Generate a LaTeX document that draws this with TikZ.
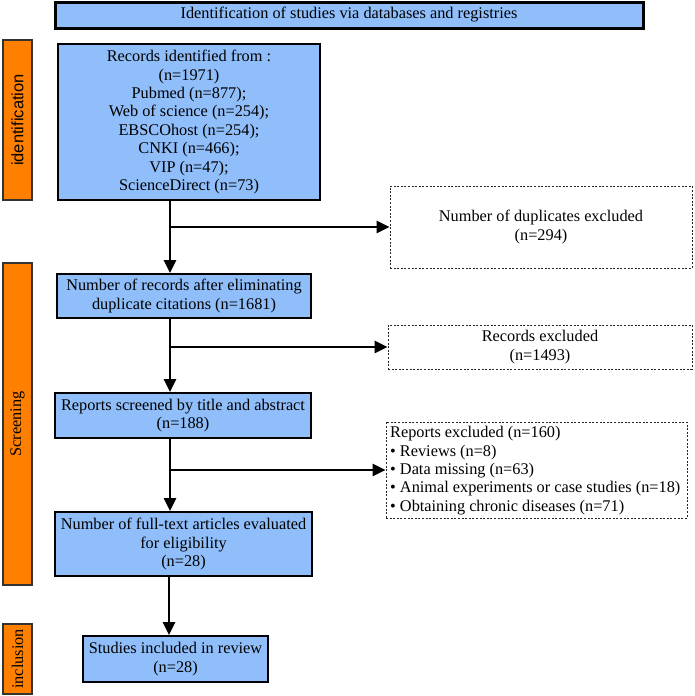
\documentclass[tikz,border=0pt]{standalone}
\usepackage{fontspec}
\setmainfont{Liberation Serif}
\setsansfont{Liberation Sans}
\usetikzlibrary{arrows.meta}
\definecolor{boxblue}{RGB}{143,190,250}
\definecolor{barorange}{RGB}{255,128,0}
\begin{document}
\begin{tikzpicture}[x=1pt,y=-1pt,
  txt/.style={font=\fontsize{16.3}{18.4}\selectfont},
  bluebox/.style={txt,draw=black,line width=2pt,fill=boxblue,inner sep=0pt,align=center},
  dashbox/.style={txt,draw=black!85,line width=0.8pt,dash pattern=on 2pt off 1.6pt,inner sep=0pt,align=center},
  stagebar/.style={draw=black!80,line width=1.5pt,fill=barorange,inner sep=0pt,rotate=90},
  flow/.style={line width=2.7pt,-{Triangle[length=13pt,width=12pt]}},
]
\useasboundingbox (0,0) rectangle (694,696);

% title
\node[bluebox,line width=3pt,minimum width=588,minimum height=26] (title) at (349,15)
  {Identification of studies via databases and registries};

% stage bars
\node[stagebar,minimum width=160,minimum height=29,font=\sffamily\fontsize{16.5}{18}\selectfont] (sid) at (17.5,120) {identification};
\node[stagebar,minimum width=322,minimum height=29,txt] (sscr) at (17.5,424) {Screening};
\node[stagebar,minimum width=70,minimum height=29,txt] (sinc) at (17.5,659) {inclusion};

% main boxes
\node[bluebox,minimum width=262,minimum height=156] (rec) at (189,122)
  {Records identified from :\\(n=1971)\\Pubmed (n=877);\\Web of science (n=254);\\EBSCOhost (n=254);\\CNKI (n=466);\\VIP (n=47);\\ScienceDirect (n=73)};
\node[bluebox,minimum width=254,minimum height=44] (nodup) at (184,296)
  {Number of records after eliminating\\duplicate citations (n=1681)};
\node[bluebox,minimum width=256,minimum height=45] (scr) at (183,415.5)
  {Reports screened by title and abstract\\(n=188)};
\node[bluebox,minimum width=257,minimum height=64] (full) at (183.5,544)
  {Number of full-text articles evaluated\\for eligibility\\(n=28)};
\node[bluebox,minimum width=185,minimum height=46] (inc) at (175.5,659)
  {Studies included in review\\(n=28)};

% exclusion boxes
\node[dashbox,minimum width=302,minimum height=82] (dup) at (541,227)
  {Number of duplicates excluded\\(n=294)};
\node[dashbox,minimum width=304,minimum height=44] (recex) at (540,347)
  {Records excluded\\(n=1493)};
\node[dashbox,minimum width=301,minimum height=96] (repex) at (536.5,470) {};
\node[txt,align=left,anchor=west,inner sep=0pt] (repextxt) at (390,470.5)
  {Reports excluded (n=160)\\\textbullet{} Reviews (n=8)\\\textbullet{} Data missing (n=63)\\\textbullet{} Animal experiments or case studies (n=18)\\\textbullet{} Obtaining chronic diseases (n=71)};

% connectors
\coordinate (axis) at (170,0);
\coordinate (axisb) at (169,0);
\draw[flow] (rec.south -| axis) -- (nodup.north -| axis);
\draw[flow] (dup.west -| axis) -- (dup.west);
\draw[flow] (nodup.south -| axis) -- (scr.north -| axis);
\draw[flow] (recex.west -| axis) -- (recex.west);
\draw[flow] (scr.south -| axis) -- (full.north -| axis);
\draw[flow] (repex.west -| axis) -- (repex.west);
\draw[flow] (full.south -| axisb) -- (inc.north -| axisb);
\end{tikzpicture}
\end{document}
